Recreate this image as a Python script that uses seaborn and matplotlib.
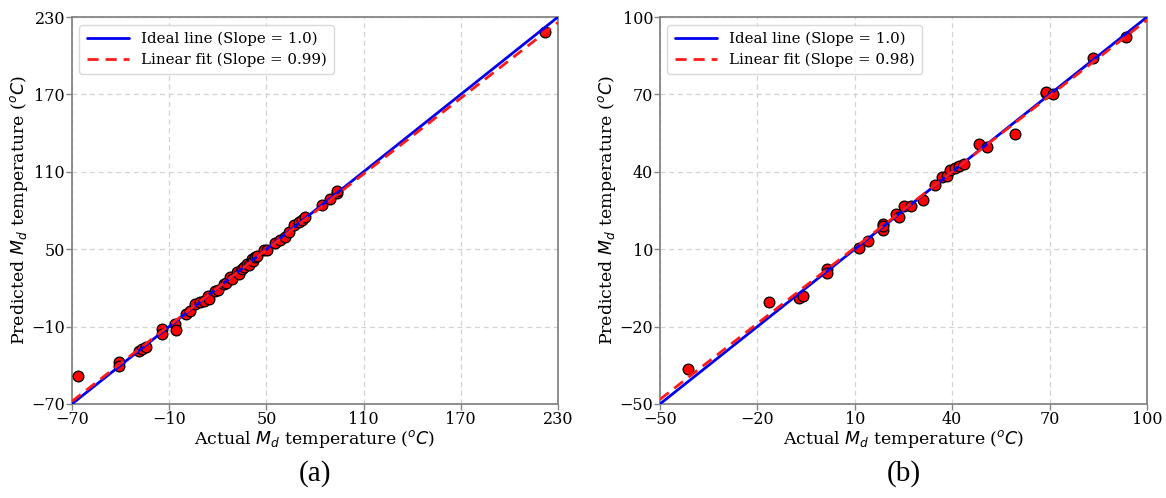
import numpy as np
import pandas as pd
import matplotlib
matplotlib.use("Agg")
import matplotlib.pyplot as plt
import seaborn as sns

# ---- data ----
actual_a = [-66.3, -41.2, -41.0, -28.4, -26.8, -24.3, -14.4, -14.2, -6.2, -5.8,
            0.6, 3.1, 6.2, 9.3, 11.3, 14.0, 14.3, 18.5, 20.0, 23.7, 25.0, 27.8,
            29.0, 31.9, 33.0, 35.0, 36.5, 38.1, 39.5, 41.2, 42.0, 43.2, 44.0,
            48.4, 50.5, 55.6, 58.7, 61.8, 63.8, 66.9, 70.0, 72.1, 74.1,
            84.4, 89.2, 93.7, 93.7, 221.8]
pred_a = [-48.5, -37.7, -40.3, -28.6, -27.3, -26.0, -11.8, -15.7, -7.9, -12.6,
          0.0, 2.4, 7.8, 9.1, 10.2, 14.1, 11.5, 17.9, 18.5, 23.1, 23.5, 28.3,
          27.0, 32.2, 31.0, 34.8, 36.0, 38.6, 38.0, 42.5, 40.5, 43.8, 45.0,
          49.0, 49.5, 54.7, 57.3, 59.8, 63.3, 68.4, 71.0, 72.3, 74.8,
          83.9, 89.1, 93.5, 95.5, 218.4]

actual_b = [-41.4, -16.3, -7.3, -5.8, 1.5, 1.5, 11.3, 14.0, 18.7, 18.7, 18.7,
            22.8, 23.6, 25.1, 27.4, 31.0, 34.6, 36.9, 38.4, 39.3, 40.8, 42.1,
            43.6, 48.2, 50.8, 59.3, 68.9, 68.9, 70.9, 83.5, 93.5]
pred_b = [-36.4, -10.4, -9.1, -8.1, 2.2, 0.9, 10.4, 13.3, 19.9, 17.5, 18.8,
          23.8, 22.3, 26.6, 26.9, 29.0, 34.8, 38.0, 38.3, 40.6, 41.6, 42.4,
          43.2, 50.6, 49.7, 54.5, 70.4, 70.9, 70.1, 84.1, 92.1]

ticks_a = [-70, -10, 50, 110, 170, 230]
ticks_b = [-50, -20, 10, 40, 70, 100]
ideal_label = "Ideal line (Slope = 1.0)"
fit_label_a = "Linear fit (Slope = 0.99)"
fit_label_b = "Linear fit (Slope = 0.98)"
captions = ["(a)", "(b)"]

sns.set_theme(style="whitegrid")
plt.rcParams["font.family"] = ["DejaVu Serif"]
plt.rcParams["mathtext.fontset"] = "dejavusans"
plt.rcParams["text.color"] = "black"
plt.rcParams["axes.labelcolor"] = "black"
plt.rcParams["xtick.color"] = "black"
plt.rcParams["ytick.color"] = "black"

fig = plt.figure(figsize=(11.66, 4.98), dpi=100)
ax_a = fig.add_axes([0.0617, 0.1888, 0.4168, 0.777])
ax_b = fig.add_axes([0.566, 0.1888, 0.4177, 0.777])

spine_col = "#858585"


def panel(ax, xs, ys, ticks, fit_label, caption):
    lo, hi = ticks[0], ticks[-1]
    line_x = np.array([lo, hi], dtype=float)
    slope, icpt = np.polyfit(xs, ys, 1)
    df_ideal = pd.DataFrame({"x": line_x, "y": line_x})
    df_fit = pd.DataFrame({"x": line_x, "y": slope * line_x + icpt})
    sns.scatterplot(x=xs, y=ys, ax=ax, color="red", edgecolor="black",
                    linewidth=0.9, s=60, zorder=3, legend=False)
    sns.lineplot(data=df_ideal, x="x", y="y", ax=ax, color="#0000ee",
                 linewidth=2.0, label=ideal_label, zorder=4)
    sns.lineplot(data=df_fit, x="x", y="y", ax=ax, color="#ff1a1a",
                 linewidth=2.0, linestyle=(0, (4, 2.5)), label=fit_label, zorder=5)
    ax.set_xlim(lo, hi)
    ax.set_ylim(lo, hi)
    ax.set_xticks(ticks)
    ax.set_yticks(ticks)
    ax.tick_params(axis="both", labelsize=11.5, length=4, width=1,
                   color=spine_col, labelcolor="black", pad=1, direction="out",
                   bottom=True, left=True)
    ax.grid(True, linestyle=(0, (4, 3)), color="#d3d3d3", linewidth=0.9)
    for sp in ax.spines.values():
        sp.set_color(spine_col)
        sp.set_linewidth(1.3)
    ax.set_xlabel(r"Actual $M_d$ temperature ($^oC$)", fontsize=12.5, labelpad=0)
    ax.set_ylabel(r"Predicted $M_d$ temperature ($^oC$)", fontsize=12.5, labelpad=1)
    leg = ax.legend(loc="upper left", fontsize=10.8, frameon=True,
                    handlelength=2.8, borderpad=0.5, labelspacing=0.4)
    leg.get_frame().set_edgecolor("#d0d0d0")
    ax.text(0.5, -0.145, caption, transform=ax.transAxes, ha="center",
            va="top", fontsize=21, family=["Liberation Serif"])


panel(ax_a, actual_a, pred_a, ticks_a, fit_label_a, captions[0])
panel(ax_b, actual_b, pred_b, ticks_b, fit_label_b, captions[1])

fig.savefig("out.png", dpi=100)
